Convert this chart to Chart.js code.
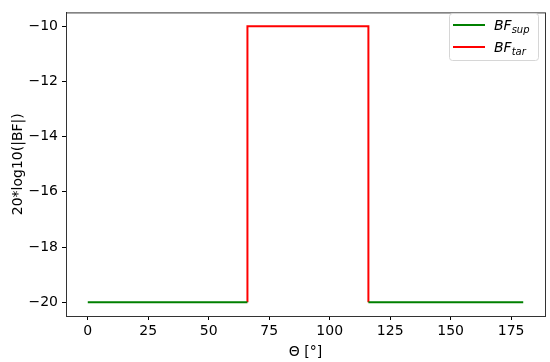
<!DOCTYPE html>
<html>
<head>
<meta charset="utf-8">
<script src="https://cdn.jsdelivr.net/npm/chart.js@4"></script>
<style>
  html, body { margin: 0; padding: 0; background: #fff; }
  #wrap { width: 550px; height: 362px; }
</style>
</head>
<body>
<div id="wrap"><canvas id="chart" width="550" height="362"></canvas></div>
<script>
// data
const thetaSup = [0, 66, 66, 116, 180]
const bfSup = [-20, -20, null, -20, -20]
const thetaTar = [66, 66, 116, 116]
const bfTar = [-20, -10, -10, -20]

const xTicks = [0, 25, 50, 75, 100, 125, 150, 175]
const yTicks = [-20, -18, -16, -14, -12, -10]

const FONT = 'DejaVu Sans'
const minus = v => String(v).replace('-', '\u2212')

const toPoints = (xs, ys) => xs.map((x, i) => ({ x: x, y: ys[i] }))

// matplotlib-style box around the axes + legend with subscripts
const frame = {
  id: 'frame',
  afterDraw(chart) {
    const { ctx, chartArea: a } = chart
    ctx.save()
    ctx.strokeStyle = '#333'
    ctx.lineWidth = 1
    ctx.strokeRect(a.left + 0.5, a.top + 0.5, a.right - a.left, a.bottom - a.top)

    // legend
    const bx = 449, by = 13, bw = 89, bh = 47
    ctx.fillStyle = 'rgba(255,255,255,0.8)'
    ctx.strokeStyle = '#d6d6d6'
    ctx.beginPath()
    ctx.roundRect(bx + 0.5, by + 0.5, bw, bh, 3)
    ctx.fill()
    ctx.stroke()

    const rows = [
      { color: '#008000', sub: 'sup', y: 25 },
      { color: '#ff0000', sub: 'tar', y: 47 }
    ]
    rows.forEach(r => {
      ctx.strokeStyle = r.color
      ctx.lineWidth = 2
      ctx.beginPath()
      ctx.moveTo(453, r.y)
      ctx.lineTo(485, r.y)
      ctx.stroke()
      ctx.fillStyle = '#000'
      ctx.textBaseline = 'alphabetic'
      ctx.font = 'italic 14px "' + FONT + '"'
      ctx.fillText('BF', 494, r.y + 5)
      const w = ctx.measureText('BF').width
      ctx.font = 'italic 10px "' + FONT + '"'
      ctx.fillText(r.sub, 494 + w, r.y + 8)
    })
    ctx.restore()
  }
}

new Chart(document.getElementById('chart'), {
  type: 'line',
  data: {
    datasets: [
      {
        label: 'BF_sup',
        data: toPoints(thetaSup, bfSup),
        borderColor: '#008000',
        borderWidth: 2,
        pointRadius: 0,
        spanGaps: false,
        tension: 0
      },
      {
        label: 'BF_tar',
        data: toPoints(thetaTar, bfTar),
        borderColor: '#ff0000',
        borderWidth: 2,
        pointRadius: 0,
        tension: 0
      }
    ]
  },
  options: {
    responsive: false,
    animation: false,
    layout: { padding: { top: 5, right: 5, left: 0, bottom: 0 } },
    plugins: {
      legend: { display: false },
      tooltip: { enabled: false }
    },
    scales: {
      x: {
        type: 'linear',
        min: -9,
        max: 189,
        afterBuildTicks: s => { s.ticks = xTicks.map(v => ({ value: v })) },
        afterFit: s => { s.height = 46 },
        grid: { display: true, drawOnChartArea: false, drawTicks: true, tickLength: 4, color: '#000' },
        border: { display: true, color: '#333' },
        ticks: {
          color: '#000',
          font: { family: FONT, size: 14 },
          padding: 3,
          maxRotation: 0,
          autoSkip: false,
          callback: v => minus(v)
        },
        title: {
          display: true,
          text: 'Θ [°]',
          color: '#000',
          font: { family: FONT, size: 14 },
          padding: { top: 0, bottom: 1 }
        }
      },
      y: {
        min: -20.5,
        max: -9.5,
        afterBuildTicks: s => { s.ticks = yTicks.map(v => ({ value: v })) },
        afterFit: s => { s.width = 66 },
        grid: { display: true, drawOnChartArea: false, drawTicks: true, tickLength: 4, color: '#000' },
        border: { display: true, color: '#333' },
        ticks: {
          color: '#000',
          font: { family: FONT, size: 14 },
          padding: 4,
          autoSkip: false,
          callback: v => minus(v)
        },
        title: {
          display: true,
          text: '20*log10(|BF|)',
          color: '#000',
          font: { family: FONT, size: 14 },
          padding: { top: 10, bottom: 0 }
        }
      }
    }
  },
  plugins: [frame]
})
</script>
</body>
</html>
